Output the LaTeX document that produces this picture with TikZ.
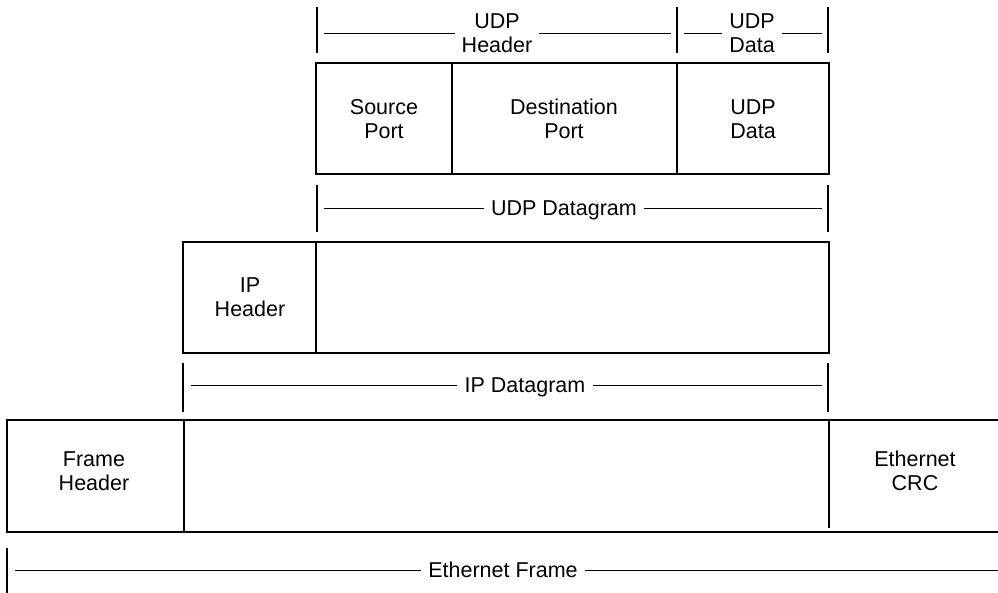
\documentclass[tikz,border=0pt]{standalone}
\usepackage{fontspec}
\setmainfont{Liberation Sans}
\usetikzlibrary{calc}

\tikzset{
	box/.style={line width=1.3pt},
	tick/.style={line width=2.8pt},
	dimline/.style={line width=0.9pt},
	field/.style={font=\fontsize{21.5}{23.5}\selectfont, align=center, inner sep=0pt},
	span/.style={font=\fontsize{21.5}{23.5}\selectfont, align=center, inner xsep=7pt, inner ysep=0pt},
	spanone/.style={font=\fontsize{21.5}{23.5}\selectfont, inner xsep=7pt, inner ysep=0pt,
		text height=15.4pt, text depth=0pt},
}

\begin{document}
\begin{tikzpicture}[x=1pt, y=-1pt]

% page %{{{2

	\useasboundingbox (0,0) rectangle (998,593);

% parameters %{{{2

	\def\udptop{63}
	\def\udpbot{174}
	\def\iptop{242}
	\def\ipbot{353}
	\def\frtop{420}
	\def\frbot{532}

% udp boxes %{{{2

	\draw[box] (316,\udptop) rectangle (829,\udpbot);
	\foreach \x in {452,677} { \draw[box] (\x,\udptop) -- (\x,\udpbot); }

	\node[field] (srcport) at (384,119) {Source\\Port};
	\node[field] (dstport) at (564,119) {Destination\\Port};
	\node[field] (udpdata) at (753,119) {UDP\\Data};

% ip boxes %{{{2

	\draw[box] (183,\iptop) rectangle (829,\ipbot);
	\draw[box] (316,\iptop) -- (316,\ipbot);

	\node[field] (iphdr) at (250,297) {IP\\Header};

% frame boxes %{{{2

	\draw[box] (998,\frtop) -- (7,\frtop) -- (7,\frbot) -- (998,\frbot);
	\draw[box] (184,\frtop) -- (184,\frbot);
	\draw[box] (829,\frtop) -- (829,528);

	\node[field] (frhdr) at (94,471) {Frame\\Header};
	\node[field] (crc) at (915,471) {Ethernet\\CRC};

% ticks %{{{2

	\foreach \x in {317,677,828} { \draw[tick] (\x,7) -- (\x,53); }
	\foreach \x in {317,828} { \draw[tick] (\x,185) -- (\x,232); }
	\foreach \x in {183,828} { \draw[tick] (\x,363) -- (\x,412); }
	\draw[tick] (7,548) -- (7,593);

% span labels %{{{2

	\node[span] (udphdrspan) at (497,33) {UDP\\Header};
	\node[span] (udpdataspan) at (752,33) {UDP\\Data};
	\node[spanone] (udpdgram) at (564,208) {UDP Datagram};
	\node[spanone] (ipdgram) at (525,385) {IP Datagram};
	\node[spanone] (ethframe) at (503,570) {Ethernet Frame};

% span line ends %{{{2

	\coordinate (uh1) at (324,33);
	\coordinate (uh2) at (671,33);
	\coordinate (ud1) at (684,33);
	\coordinate (ud2) at (822,33);
	\coordinate (ug1) at (324,208);
	\coordinate (ug2) at (822,208);
	\coordinate (ig1) at (191,385);
	\coordinate (ig2) at (822,385);
	\coordinate (ef1) at (15,570);
	\coordinate (ef2) at (998,570);

% span lines %{{{2

	\draw[dimline] (uh1) -- (udphdrspan);
	\draw[dimline] (udphdrspan) -- (uh2);
	\draw[dimline] (ud1) -- (udpdataspan);
	\draw[dimline] (udpdataspan) -- (ud2);
	\draw[dimline] (ug1) -- (udpdgram);
	\draw[dimline] (udpdgram) -- (ug2);
	\draw[dimline] (ig1) -- (ipdgram);
	\draw[dimline] (ipdgram) -- (ig2);
	\draw[dimline] (ef1) -- (ethframe);
	\draw[dimline] (ethframe) -- (ef2);

% closing %{{{2

\end{tikzpicture}
\end{document}
